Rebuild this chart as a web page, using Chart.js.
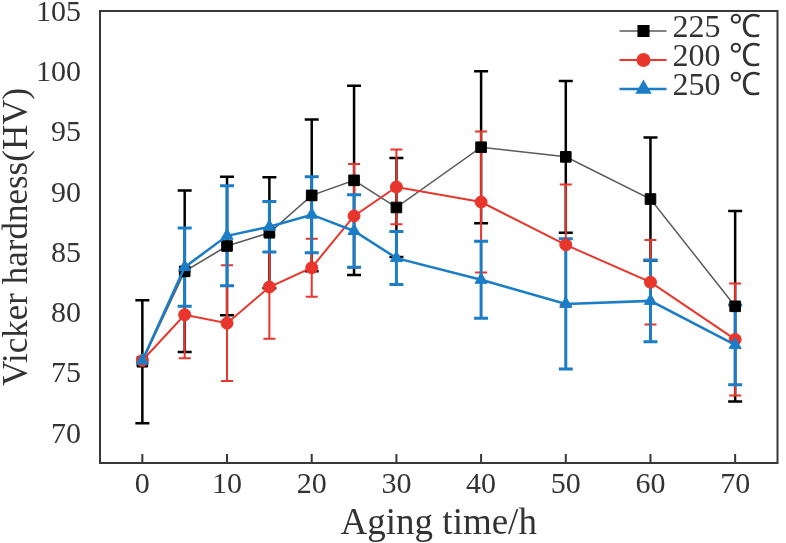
<!DOCTYPE html>
<html>
<head>
<meta charset="utf-8">
<script src="https://cdn.jsdelivr.net/npm/chart.js@4.4.1/dist/chart.umd.min.js"></script>
<style>
  html, body { margin: 0; padding: 0; background: #fff; overflow: hidden; }
  canvas { display: block; }
</style>
</head>
<body>
<canvas id="hv" width="786" height="543"></canvas>
<script>
  // aging time (h) and hardness readings, mean and +/- error
  const times = [0, 5, 10, 15, 20, 25, 30, 40, 50, 60, 70];

  const hv225  = [75.9, 83.4, 85.5, 86.6, 89.7, 90.95, 88.7, 93.7, 92.9, 89.4, 80.5];
  const err225 = [5.1, 6.7, 5.75, 4.6, 6.3, 7.85, 4.1, 6.3, 6.3, 5.1, 7.9];

  const hv200  = [76.0, 79.8, 79.1, 82.1, 83.7, 88.0, 90.4, 89.15, 85.6, 82.5, 77.75];
  const err200 = [0, 3.6, 4.8, 4.3, 2.4, 4.3, 3.1, 5.85, 5.0, 3.5, 4.65];

  const hv250  = [76.0, 83.75, 86.35, 87.1, 88.1, 86.75, 84.5, 82.7, 80.7, 80.95, 77.3];
  const err250 = [0, 3.25, 4.15, 2.1, 3.15, 3.0, 2.2, 3.2, 5.4, 3.4, 3.3];

  const xTicks = [0, 10, 20, 30, 40, 50, 60, 70];
  const yTicks = [70, 75, 80, 85, 90, 95, 100, 105];

  const serif = '"Liberation Serif", "Times New Roman", serif';

  function pts(vals) {
    return times.map((t, i) => ({x: t, y: vals[i]}));
  }

  const series = [
    {label: '225 ℃', data: hv225, err: err225, line: '#5a5a5a', mark: '#000000', lw: 1.5, bw: 2.5, cap: 7, style: 'rect', r: 7.5, order: 3},
    {label: '200 ℃', data: hv200, err: err200, line: '#e8362c', mark: '#e8362c', lw: 2, bw: 2, cap: 6, style: 'circle', r: 6, order: 2},
    {label: '250 ℃', data: hv250, err: err250, line: '#1b7dc6', mark: '#1b7dc6', lw: 2.5, bw: 3, cap: 7, style: 'triangle', r: 7, order: 1}
  ];

  // error bars, frame, inner x ticks and legend
  const extras = {
    id: 'extras',
    beforeDatasetsDraw(chart) {
      const ctx = chart.ctx;
      const xs = chart.scales.x, ys = chart.scales.y;
      ctx.save();
      series.forEach(s => {
        ctx.strokeStyle = s.mark;
        ctx.lineWidth = s.bw;
        s.data.forEach((v, i) => {
          const e = s.err[i];
          if (!e) return;
          const px = xs.getPixelForValue(times[i]);
          const top = ys.getPixelForValue(v + e);
          const bot = ys.getPixelForValue(v - e);
          ctx.beginPath();
          ctx.moveTo(px, top); ctx.lineTo(px, bot);
          ctx.moveTo(px - s.cap, top); ctx.lineTo(px + s.cap, top);
          ctx.moveTo(px - s.cap, bot); ctx.lineTo(px + s.cap, bot);
          ctx.stroke();
        });
      });
      ctx.restore();
    },
    afterDraw(chart) {
      const ctx = chart.ctx;
      const a = chart.chartArea;
      const xs = chart.scales.x;
      ctx.save();
      ctx.strokeStyle = '#383838';
      ctx.lineWidth = 2;
      ctx.strokeRect(a.left, a.top, a.right - a.left, a.bottom - a.top);
      ctx.beginPath();
      xTicks.forEach(t => {
        const px = xs.getPixelForValue(t);
        ctx.moveTo(px, a.bottom);
        ctx.lineTo(px, a.bottom - 9);
      });
      ctx.stroke();

      // legend
      const lx0 = a.right - 158, lx1 = a.right - 111, mx = a.right - 134;
      ctx.font = '32px ' + serif;
      ctx.textBaseline = 'middle';
      ctx.textAlign = 'left';
      series.forEach((s, i) => {
        const ry = a.top + 18 + i * 29;
        ctx.strokeStyle = s.line;
        ctx.lineWidth = s.lw;
        ctx.beginPath();
        ctx.moveTo(lx0, ry + 2); ctx.lineTo(lx1, ry + 2);
        ctx.stroke();
        ctx.fillStyle = s.mark;
        ctx.strokeStyle = s.mark;
        Chart.helpers.drawPoint(ctx, {pointStyle: s.style, radius: s.r, rotation: 0, borderWidth: 1}, mx, ry + 2);
        ctx.fillStyle = '#333333';
        ctx.fillText(s.label, a.right - 105, ry);
      });
      ctx.restore();
    }
  };

  new Chart(document.getElementById('hv'), {
    type: 'line',
    data: {
      datasets: series.map(s => ({
        label: s.label,
        data: pts(s.data),
        borderColor: s.line,
        borderWidth: s.lw,
        backgroundColor: s.mark,
        pointBackgroundColor: s.mark,
        pointBorderColor: s.mark,
        pointBorderWidth: 1,
        pointStyle: s.style,
        pointRadius: s.r,
        pointHoverRadius: s.r,
        tension: 0,
        order: s.order
      }))
    },
    options: {
      responsive: false,
      devicePixelRatio: 1,
      animation: false,
      layout: {padding: {top: 11, right: 1, left: 0, bottom: 0}},
      plugins: {
        legend: {display: false},
        tooltip: {enabled: false}
      },
      scales: {
        x: {
          type: 'linear',
          min: -5,
          max: 75,
          afterBuildTicks: sc => { sc.ticks = xTicks.map(v => ({value: v})); },
          afterFit: sc => { sc.height = 80; sc.paddingLeft = 0; sc.paddingRight = 0; },
          grid: {display: false},
          border: {display: false},
          ticks: {color: '#333', padding: -4, font: {family: serif, size: 30}},
          title: {display: true, text: 'Aging time/h', color: '#333', padding: 0,
                  font: {family: serif, size: 37, lineHeight: 1}}
        },
        y: {
          min: 67.5,
          max: 105,
          afterBuildTicks: sc => { sc.ticks = yTicks.map(v => ({value: v})); },
          afterFit: sc => { sc.width = 100; sc.paddingTop = 0; sc.paddingBottom = 0; },
          grid: {display: false},
          border: {display: false},
          ticks: {color: '#333', padding: 11, labelOffset: 2, font: {family: serif, size: 30}},
          title: {display: true, text: 'Vicker hardness(HV)', color: '#333', padding: 0,
                  font: {family: serif, size: 35, lineHeight: 1}}
        }
      }
    },
    plugins: [extras]
  });
</script>
</body>
</html>
